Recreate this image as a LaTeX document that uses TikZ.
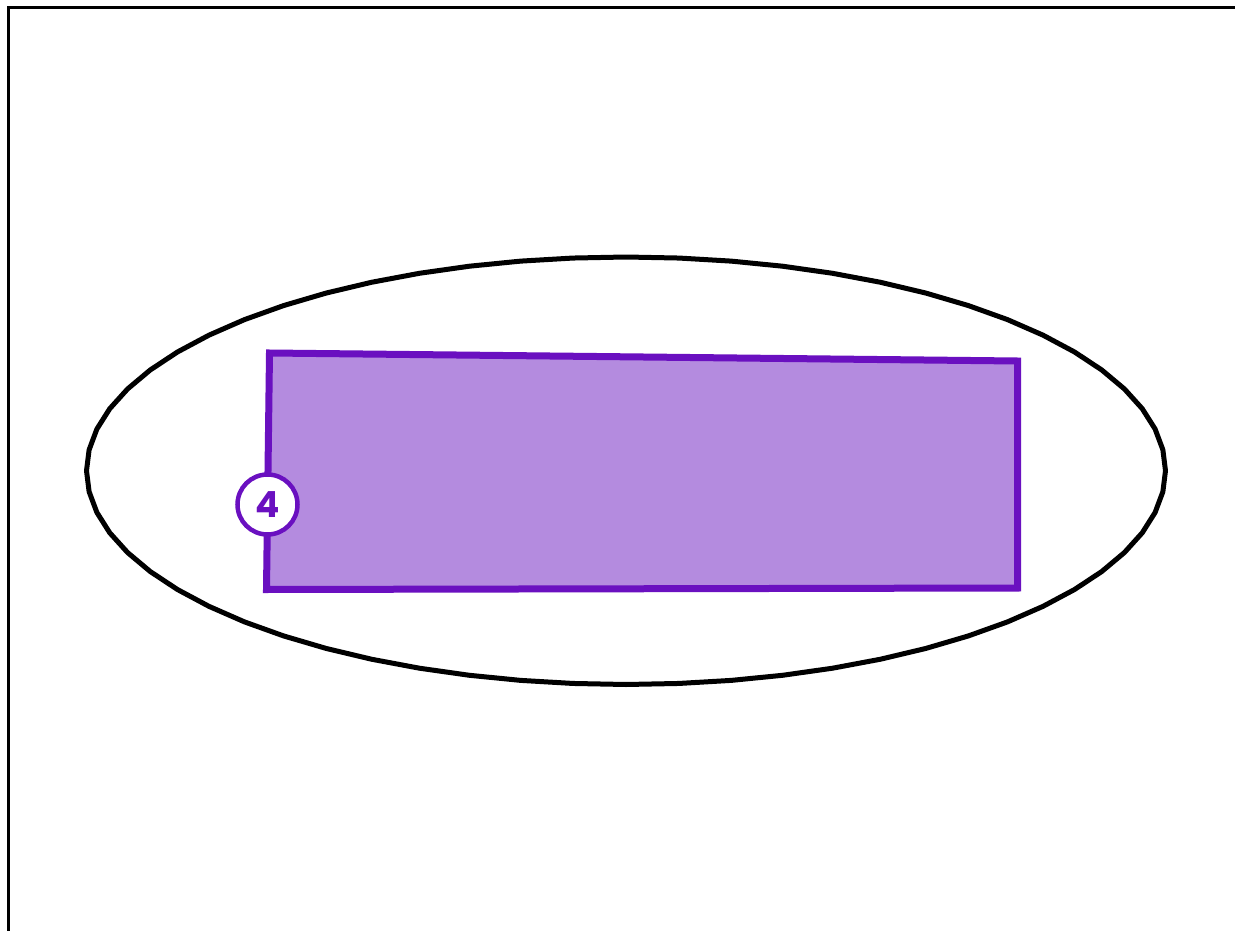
\documentclass[tikz,border=0pt]{standalone}
\usepackage{fontspec}
\newfontfamily\badgefont{Poppins}[UprightFont=* Bold]
\definecolor{pstroke}{HTML}{6A10C0}
\definecolor{pfill}{HTML}{B48BDF}
\begin{document}
\begin{tikzpicture}[x=1pt,y=-1pt,
  frame/.style={draw=black,line width=3pt},
  outline/.style={draw=black,line width=5pt,line join=round},
  area/.style={draw=pstroke,fill=pfill,line width=7pt,line join=miter},
  badge/.style={circle,draw=pstroke,fill=white,line width=4.5pt,minimum size=60pt,inner sep=0pt,text=pstroke,font=\badgefont\fontsize{36}{36}\selectfont}]
\useasboundingbox (0,0) rectangle (1235,931);
\fill[white] (0,0) rectangle (1235,931);
\coordinate (tl) at (8,8);
\coordinate (tr) at (1240,8);
\coordinate (bl) at (8,940);
\draw[frame] (tr) -- (tl) -- (bl);
\draw[outline] plot[samples=65,domain=0:360,variable=\t] ({626+539.5*cos(\t)},{470.75+213.75*sin(\t)}) -- cycle;
\coordinate (a) at (269.5,353);
\coordinate (b) at (1017.5,361);
\coordinate (c) at (1017.5,588);
\coordinate (d) at (266.5,589.5);
\draw[area] (a) -- (b) -- (c) -- (d) -- cycle;
\node[badge] (n4) at (267.5,504.5) {4};
\end{tikzpicture}
\end{document}
